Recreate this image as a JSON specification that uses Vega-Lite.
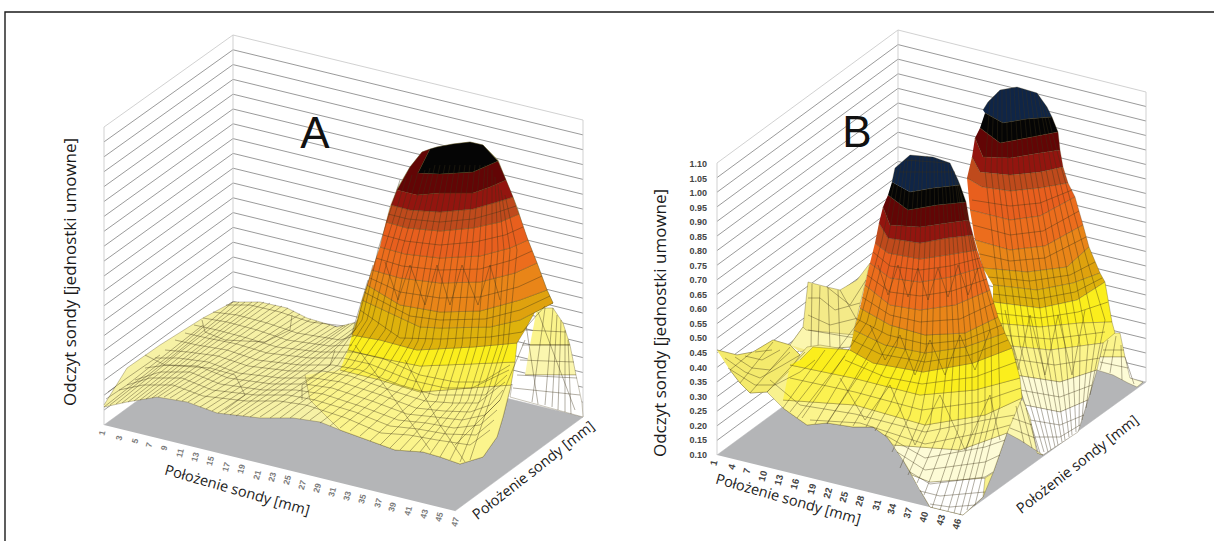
{"$schema":"https://vega.github.io/schema/vega-lite/v6.json","width":1214,"height":541,"padding":0,"autosize":"none","background":"#ffffff","view":{"stroke":null},
"datasets":{
"walls":[
{"w":"a0","k":"edge","x":104,"y":127},{"w":"a0","k":"edge","x":233,"y":35},{"w":"a0","k":"edge","x":583,"y":120},
{"w":"a1","k":"grid","x":104,"y":141.9},{"w":"a1","k":"grid","x":233,"y":49.8},{"w":"a1","k":"grid","x":583,"y":134.9},
{"w":"a2","k":"grid","x":104,"y":156.8},{"w":"a2","k":"grid","x":233,"y":64.6},{"w":"a2","k":"grid","x":583,"y":149.7},
{"w":"a3","k":"grid","x":104,"y":171.7},{"w":"a3","k":"grid","x":233,"y":79.4},{"w":"a3","k":"grid","x":583,"y":164.6},
{"w":"a4","k":"grid","x":104,"y":186.6},{"w":"a4","k":"grid","x":233,"y":94.2},{"w":"a4","k":"grid","x":583,"y":179.4},
{"w":"a5","k":"grid","x":104,"y":201.5},{"w":"a5","k":"grid","x":233,"y":109},{"w":"a5","k":"grid","x":583,"y":194.3},
{"w":"a6","k":"grid","x":104,"y":216.4},{"w":"a6","k":"grid","x":233,"y":123.8},{"w":"a6","k":"grid","x":583,"y":209.1},
{"w":"a7","k":"grid","x":104,"y":231.3},{"w":"a7","k":"grid","x":233,"y":138.6},{"w":"a7","k":"grid","x":583,"y":224},
{"w":"a8","k":"grid","x":104,"y":246.2},{"w":"a8","k":"grid","x":233,"y":153.4},{"w":"a8","k":"grid","x":583,"y":238.8},
{"w":"a9","k":"grid","x":104,"y":261.1},{"w":"a9","k":"grid","x":233,"y":168.2},{"w":"a9","k":"grid","x":583,"y":253.7},
{"w":"a10","k":"grid","x":104,"y":276},{"w":"a10","k":"grid","x":233,"y":183},{"w":"a10","k":"grid","x":583,"y":268.5},
{"w":"a11","k":"grid","x":104,"y":290.9},{"w":"a11","k":"grid","x":233,"y":197.8},{"w":"a11","k":"grid","x":583,"y":283.4},
{"w":"a12","k":"grid","x":104,"y":305.8},{"w":"a12","k":"grid","x":233,"y":212.6},{"w":"a12","k":"grid","x":583,"y":298.2},
{"w":"a13","k":"grid","x":104,"y":320.7},{"w":"a13","k":"grid","x":233,"y":227.4},{"w":"a13","k":"grid","x":583,"y":313.1},
{"w":"a14","k":"grid","x":104,"y":335.6},{"w":"a14","k":"grid","x":233,"y":242.2},{"w":"a14","k":"grid","x":583,"y":327.9},
{"w":"a15","k":"grid","x":104,"y":350.5},{"w":"a15","k":"grid","x":233,"y":257},{"w":"a15","k":"grid","x":583,"y":342.8},
{"w":"a16","k":"grid","x":104,"y":365.4},{"w":"a16","k":"grid","x":233,"y":271.8},{"w":"a16","k":"grid","x":583,"y":357.6},
{"w":"a17","k":"grid","x":104,"y":380.3},{"w":"a17","k":"grid","x":233,"y":286.6},{"w":"a17","k":"grid","x":583,"y":372.5},
{"w":"a18","k":"grid","x":104,"y":395.2},{"w":"a18","k":"grid","x":233,"y":301.4},{"w":"a18","k":"grid","x":583,"y":387.3},
{"w":"a19","k":"grid","x":104,"y":410.1},{"w":"a19","k":"grid","x":233,"y":316.2},{"w":"a19","k":"grid","x":583,"y":402.2},
{"w":"av1","k":"edge","x":104,"y":127},{"w":"av1","k":"edge","x":104,"y":425},
{"w":"av2","k":"edge","x":233,"y":35},{"w":"av2","k":"edge","x":233,"y":331},
{"w":"av3","k":"edge","x":583,"y":120},{"w":"av3","k":"edge","x":583,"y":417},
{"w":"b0","k":"edge","x":717,"y":163},{"w":"b0","k":"edge","x":898,"y":30},{"w":"b0","k":"edge","x":1146,"y":92},
{"w":"b1","k":"grid","x":717,"y":177.6},{"w":"b1","k":"grid","x":898,"y":44.6},{"w":"b1","k":"grid","x":1146,"y":106.5},
{"w":"b2","k":"grid","x":717,"y":192.2},{"w":"b2","k":"grid","x":898,"y":59.2},{"w":"b2","k":"grid","x":1146,"y":121},
{"w":"b3","k":"grid","x":717,"y":206.8},{"w":"b3","k":"grid","x":898,"y":73.8},{"w":"b3","k":"grid","x":1146,"y":135.5},
{"w":"b4","k":"grid","x":717,"y":221.4},{"w":"b4","k":"grid","x":898,"y":88.4},{"w":"b4","k":"grid","x":1146,"y":150},
{"w":"b5","k":"grid","x":717,"y":236},{"w":"b5","k":"grid","x":898,"y":103},{"w":"b5","k":"grid","x":1146,"y":164.5},
{"w":"b6","k":"grid","x":717,"y":250.6},{"w":"b6","k":"grid","x":898,"y":117.6},{"w":"b6","k":"grid","x":1146,"y":179},
{"w":"b7","k":"grid","x":717,"y":265.2},{"w":"b7","k":"grid","x":898,"y":132.2},{"w":"b7","k":"grid","x":1146,"y":193.5},
{"w":"b8","k":"grid","x":717,"y":279.8},{"w":"b8","k":"grid","x":898,"y":146.8},{"w":"b8","k":"grid","x":1146,"y":208},
{"w":"b9","k":"grid","x":717,"y":294.4},{"w":"b9","k":"grid","x":898,"y":161.4},{"w":"b9","k":"grid","x":1146,"y":222.5},
{"w":"b10","k":"grid","x":717,"y":309},{"w":"b10","k":"grid","x":898,"y":176},{"w":"b10","k":"grid","x":1146,"y":237},
{"w":"b11","k":"grid","x":717,"y":323.6},{"w":"b11","k":"grid","x":898,"y":190.6},{"w":"b11","k":"grid","x":1146,"y":251.5},
{"w":"b12","k":"grid","x":717,"y":338.2},{"w":"b12","k":"grid","x":898,"y":205.2},{"w":"b12","k":"grid","x":1146,"y":266},
{"w":"b13","k":"grid","x":717,"y":352.8},{"w":"b13","k":"grid","x":898,"y":219.8},{"w":"b13","k":"grid","x":1146,"y":280.5},
{"w":"b14","k":"grid","x":717,"y":367.4},{"w":"b14","k":"grid","x":898,"y":234.4},{"w":"b14","k":"grid","x":1146,"y":295},
{"w":"b15","k":"grid","x":717,"y":382},{"w":"b15","k":"grid","x":898,"y":249},{"w":"b15","k":"grid","x":1146,"y":309.5},
{"w":"b16","k":"grid","x":717,"y":396.6},{"w":"b16","k":"grid","x":898,"y":263.6},{"w":"b16","k":"grid","x":1146,"y":324},
{"w":"b17","k":"grid","x":717,"y":411.2},{"w":"b17","k":"grid","x":898,"y":278.2},{"w":"b17","k":"grid","x":1146,"y":338.5},
{"w":"b18","k":"grid","x":717,"y":425.8},{"w":"b18","k":"grid","x":898,"y":292.8},{"w":"b18","k":"grid","x":1146,"y":353},
{"w":"b19","k":"grid","x":717,"y":440.4},{"w":"b19","k":"grid","x":898,"y":307.4},{"w":"b19","k":"grid","x":1146,"y":367.5},
{"w":"bv1","k":"edge","x":717,"y":163},{"w":"bv1","k":"edge","x":717,"y":455},
{"w":"bv2","k":"edge","x":898,"y":30},{"w":"bv2","k":"edge","x":898,"y":322},
{"w":"bv3","k":"edge","x":1146,"y":92},{"w":"bv3","k":"edge","x":1146,"y":382}
],
"floors":[
{"id":"fa","level":"floor","x":104,"y":425},{"id":"fa","level":"floor","x":233,"y":331},{"id":"fa","level":"floor","x":583,"y":417},{"id":"fa","level":"floor","x":455,"y":511},
{"id":"fb","level":"floor","x":717,"y":455},{"id":"fb","level":"floor","x":898,"y":322},{"id":"fb","level":"floor","x":1146,"y":382},{"id":"fb","level":"floor","x":962,"y":515}
],
"frame":[{"x":5,"y":541},{"x":5,"y":12},{"x":1214,"y":12}],
"backPolys":[
{"id":"aw1","level":"pale2","x":537,"y":308},{"id":"aw1","level":"pale2","x":553,"y":308},{"id":"aw1","level":"pale2","x":563,"y":323},{"id":"aw1","level":"pale2","x":570,"y":345},{"id":"aw1","level":"pale2","x":530,"y":345},
{"id":"aw2","level":"pale3","x":530,"y":345},{"id":"aw2","level":"pale3","x":570,"y":345},{"id":"aw2","level":"pale3","x":576,"y":375},{"id":"aw2","level":"pale3","x":525,"y":375},
{"id":"aw3","level":"white","x":525,"y":375},{"id":"aw3","level":"white","x":576,"y":375},{"id":"aw3","level":"white","x":582,"y":403},{"id":"aw3","level":"white","x":583,"y":417},{"id":"aw3","level":"white","x":510,"y":397},{"id":"aw3","level":"white","x":512,"y":385},
{"id":"bw1","level":"pale2","x":1112,"y":333},{"id":"bw1","level":"pale2","x":1120,"y":333},{"id":"bw1","level":"pale2","x":1125,"y":357},{"id":"bw1","level":"pale2","x":1100,"y":357},{"id":"bw1","level":"pale2","x":1103,"y":343},
{"id":"bw2","level":"cream","x":1100,"y":357},{"id":"bw2","level":"cream","x":1125,"y":357},{"id":"bw2","level":"cream","x":1130,"y":378},{"id":"bw2","level":"cream","x":1143,"y":382},{"id":"bw2","level":"cream","x":1137,"y":387},{"id":"bw2","level":"cream","x":1128,"y":383},{"id":"bw2","level":"cream","x":1113,"y":375},{"id":"bw2","level":"cream","x":1097,"y":370},
{"id":"p2a","level":"navy","x":983,"y":110},{"id":"p2a","level":"navy","x":988,"y":102},{"id":"p2a","level":"navy","x":1000,"y":90},{"id":"p2a","level":"navy","x":1017,"y":87},{"id":"p2a","level":"navy","x":1037,"y":93},{"id":"p2a","level":"navy","x":1047,"y":107},{"id":"p2a","level":"navy","x":1052,"y":117},{"id":"p2a","level":"navy","x":1027,"y":119},{"id":"p2a","level":"navy","x":1003,"y":123},{"id":"p2a","level":"navy","x":985,"y":113},
{"id":"p2b","level":"black","x":985,"y":113},{"id":"p2b","level":"black","x":1003,"y":123},{"id":"p2b","level":"black","x":1027,"y":119},{"id":"p2b","level":"black","x":1052,"y":117},{"id":"p2b","level":"black","x":1058,"y":132},{"id":"p2b","level":"black","x":1027,"y":138},{"id":"p2b","level":"black","x":1000,"y":143},{"id":"p2b","level":"black","x":980,"y":128},
{"id":"p2c","level":"red1","x":980,"y":128},{"id":"p2c","level":"red1","x":1000,"y":143},{"id":"p2c","level":"red1","x":1027,"y":138},{"id":"p2c","level":"red1","x":1058,"y":132},{"id":"p2c","level":"red1","x":1060,"y":150},{"id":"p2c","level":"red1","x":1040,"y":153},{"id":"p2c","level":"red1","x":1010,"y":158},{"id":"p2c","level":"red1","x":983,"y":157},{"id":"p2c","level":"red1","x":975,"y":138},
{"id":"p2d","level":"red2","x":975,"y":138},{"id":"p2d","level":"red2","x":983,"y":157},{"id":"p2d","level":"red2","x":1010,"y":158},{"id":"p2d","level":"red2","x":1040,"y":153},{"id":"p2d","level":"red2","x":1060,"y":150},{"id":"p2d","level":"red2","x":1063,"y":167},{"id":"p2d","level":"red2","x":1040,"y":172},{"id":"p2d","level":"red2","x":1010,"y":175},{"id":"p2d","level":"red2","x":980,"y":172},{"id":"p2d","level":"red2","x":972,"y":157},
{"id":"p2e","level":"brick","x":972,"y":157},{"id":"p2e","level":"brick","x":980,"y":172},{"id":"p2e","level":"brick","x":1010,"y":175},{"id":"p2e","level":"brick","x":1040,"y":172},{"id":"p2e","level":"brick","x":1063,"y":167},{"id":"p2e","level":"brick","x":1068,"y":183},{"id":"p2e","level":"brick","x":1040,"y":188},{"id":"p2e","level":"brick","x":1010,"y":191},{"id":"p2e","level":"brick","x":982,"y":187},{"id":"p2e","level":"brick","x":967,"y":178},
{"id":"p2f","level":"or1","x":967,"y":178},{"id":"p2f","level":"or1","x":982,"y":187},{"id":"p2f","level":"or1","x":1010,"y":191},{"id":"p2f","level":"or1","x":1040,"y":188},{"id":"p2f","level":"or1","x":1068,"y":183},{"id":"p2f","level":"or1","x":1075,"y":197},{"id":"p2f","level":"or1","x":1040,"y":216},{"id":"p2f","level":"or1","x":1010,"y":220},{"id":"p2f","level":"or1","x":970,"y":210},
{"id":"p2g","level":"or2","x":970,"y":210},{"id":"p2g","level":"or2","x":1010,"y":220},{"id":"p2g","level":"or2","x":1040,"y":216},{"id":"p2g","level":"or2","x":1075,"y":197},{"id":"p2g","level":"or2","x":1083,"y":225},{"id":"p2g","level":"or2","x":1045,"y":246},{"id":"p2g","level":"or2","x":1010,"y":250},{"id":"p2g","level":"or2","x":975,"y":240},
{"id":"p2h","level":"or3","x":975,"y":240},{"id":"p2h","level":"or3","x":1010,"y":250},{"id":"p2h","level":"or3","x":1045,"y":246},{"id":"p2h","level":"or3","x":1083,"y":225},{"id":"p2h","level":"or3","x":1089,"y":247},{"id":"p2h","level":"or3","x":1067,"y":267},{"id":"p2h","level":"or3","x":1027,"y":272},{"id":"p2h","level":"or3","x":983,"y":268},
{"id":"p2i","level":"gold1","x":983,"y":268},{"id":"p2i","level":"gold1","x":1027,"y":272},{"id":"p2i","level":"gold1","x":1067,"y":267},{"id":"p2i","level":"gold1","x":1089,"y":247},{"id":"p2i","level":"gold1","x":1100,"y":273},{"id":"p2i","level":"gold1","x":1073,"y":283},{"id":"p2i","level":"gold1","x":1037,"y":290},{"id":"p2i","level":"gold1","x":993,"y":285},
{"id":"p2j","level":"gold2","x":993,"y":285},{"id":"p2j","level":"gold2","x":1037,"y":290},{"id":"p2j","level":"gold2","x":1073,"y":283},{"id":"p2j","level":"gold2","x":1100,"y":273},{"id":"p2j","level":"gold2","x":1105,"y":282},{"id":"p2j","level":"gold2","x":1077,"y":300},{"id":"p2j","level":"gold2","x":1040,"y":308},{"id":"p2j","level":"gold2","x":993,"y":302},
{"id":"p2k","level":"yel","x":993,"y":302},{"id":"p2k","level":"yel","x":1040,"y":308},{"id":"p2k","level":"yel","x":1077,"y":300},{"id":"p2k","level":"yel","x":1105,"y":282},{"id":"p2k","level":"yel","x":1112,"y":322},{"id":"p2k","level":"yel","x":1080,"y":323},{"id":"p2k","level":"yel","x":1040,"y":327},{"id":"p2k","level":"yel","x":993,"y":323},
{"id":"p2l","level":"pale1","x":993,"y":323},{"id":"p2l","level":"pale1","x":1040,"y":327},{"id":"p2l","level":"pale1","x":1080,"y":323},{"id":"p2l","level":"pale1","x":1112,"y":322},{"id":"p2l","level":"pale1","x":1115,"y":333},{"id":"p2l","level":"pale1","x":1103,"y":343},{"id":"p2l","level":"pale1","x":1050,"y":350},{"id":"p2l","level":"pale1","x":1000,"y":345},
{"id":"p2m","level":"pale2","x":1000,"y":345},{"id":"p2m","level":"pale2","x":1050,"y":350},{"id":"p2m","level":"pale2","x":1103,"y":343},{"id":"p2m","level":"pale2","x":1097,"y":370},{"id":"p2m","level":"pale2","x":1060,"y":382},{"id":"p2m","level":"pale2","x":1015,"y":375},
{"id":"p2n","level":"cream","x":1015,"y":375},{"id":"p2n","level":"cream","x":1060,"y":382},{"id":"p2n","level":"cream","x":1097,"y":370},{"id":"p2n","level":"cream","x":1088,"y":400},{"id":"p2n","level":"cream","x":1060,"y":412},{"id":"p2n","level":"cream","x":1025,"y":405},
{"id":"p2o","level":"white","x":1025,"y":405},{"id":"p2o","level":"white","x":1060,"y":412},{"id":"p2o","level":"white","x":1088,"y":400},{"id":"p2o","level":"white","x":1078,"y":432},{"id":"p2o","level":"white","x":1043,"y":455},{"id":"p2o","level":"white","x":1037,"y":453},
{"id":"fin","level":"fin","x":790,"y":345},{"id":"fin","level":"fin","x":803,"y":327},{"id":"fin","level":"fin","x":808,"y":282},{"id":"fin","level":"fin","x":827,"y":287},{"id":"fin","level":"fin","x":840,"y":290},{"id":"fin","level":"fin","x":857,"y":280},{"id":"fin","level":"fin","x":870,"y":263},{"id":"fin","level":"fin","x":850,"y":347},{"id":"fin","level":"fin","x":807,"y":350},{"id":"fin","level":"fin","x":800,"y":352},
{"id":"fin2","level":"pale3","x":790,"y":345},{"id":"fin2","level":"pale3","x":803,"y":327},{"id":"fin2","level":"pale3","x":806,"y":330},{"id":"fin2","level":"pale3","x":855,"y":335},{"id":"fin2","level":"pale3","x":850,"y":347},{"id":"fin2","level":"pale3","x":807,"y":350}
],
"backMesh":[
{"id":"w1","x":545,"y":308},{"id":"w1","x":532,"y":402},{"id":"w2","x":553,"y":308},{"id":"w2","x":545,"y":405},{"id":"w3","x":561,"y":320},{"id":"w3","x":558,"y":410},{"id":"w4","x":568,"y":340},{"id":"w4","x":571,"y":414},
{"id":"w5","x":525,"y":330},{"id":"w5","x":566,"y":332},{"id":"w6","x":522,"y":345},{"id":"w6","x":570,"y":345},{"id":"w7","x":520,"y":360},{"id":"w7","x":574,"y":362},{"id":"w8","x":517,"y":375},{"id":"w8","x":577,"y":378},{"id":"w9","x":513,"y":388},{"id":"w9","x":580,"y":395},{"id":"w10","x":538,"y":312},{"id":"w10","x":575,"y":410},{"id":"w11","x":525,"y":318},{"id":"w11","x":538,"y":404},{"id":"w12","x":557,"y":315},{"id":"w12","x":552,"y":407},{"id":"w13","x":565,"y":330},{"id":"w13","x":565,"y":412},
{"id":"q1","x":990,"y":100},{"id":"q1","x":985,"y":170},{"id":"q1","x":995,"y":260},{"id":"q1","x":1005,"y":340},{"id":"q1","x":1040,"y":453},
{"id":"q2","x":998,"y":92},{"id":"q2","x":997,"y":170},{"id":"q2","x":1008,"y":260},{"id":"q2","x":1020,"y":345},{"id":"q2","x":1048,"y":452},
{"id":"q3","x":1006,"y":89},{"id":"q3","x":1008,"y":170},{"id":"q3","x":1020,"y":260},{"id":"q3","x":1033,"y":345},{"id":"q3","x":1055,"y":447},
{"id":"q4","x":1014,"y":88},{"id":"q4","x":1019,"y":170},{"id":"q4","x":1033,"y":260},{"id":"q4","x":1045,"y":345},{"id":"q4","x":1062,"y":442},
{"id":"q5","x":1022,"y":89},{"id":"q5","x":1030,"y":170},{"id":"q5","x":1045,"y":260},{"id":"q5","x":1058,"y":345},{"id":"q5","x":1069,"y":437},
{"id":"q6","x":1030,"y":91},{"id":"q6","x":1041,"y":170},{"id":"q6","x":1058,"y":260},{"id":"q6","x":1072,"y":345},{"id":"q6","x":1076,"y":432},
{"id":"q7","x":1038,"y":95},{"id":"q7","x":1052,"y":170},{"id":"q7","x":1072,"y":260},{"id":"q7","x":1088,"y":345},{"id":"q7","x":1082,"y":420},
{"id":"q8","x":1045,"y":105},{"id":"q8","x":1062,"y":170},{"id":"q8","x":1087,"y":260},{"id":"q8","x":1105,"y":320},{"id":"q8","x":1090,"y":395},
{"id":"qb1","x":994,"y":96},{"id":"qb1","x":991,"y":170},{"id":"qb1","x":1001,"y":260},{"id":"qb1","x":1012,"y":342},{"id":"qb1","x":1044,"y":452},
{"id":"qb2","x":1002,"y":90},{"id":"qb2","x":1002,"y":170},{"id":"qb2","x":1014,"y":260},{"id":"qb2","x":1026,"y":345},{"id":"qb2","x":1051,"y":450},
{"id":"qb3","x":1010,"y":88},{"id":"qb3","x":1013,"y":170},{"id":"qb3","x":1026,"y":260},{"id":"qb3","x":1039,"y":345},{"id":"qb3","x":1058,"y":445},
{"id":"qb4","x":1018,"y":88},{"id":"qb4","x":1024,"y":170},{"id":"qb4","x":1039,"y":260},{"id":"qb4","x":1051,"y":345},{"id":"qb4","x":1065,"y":440},
{"id":"qb5","x":1026,"y":90},{"id":"qb5","x":1035,"y":170},{"id":"qb5","x":1051,"y":260},{"id":"qb5","x":1065,"y":345},{"id":"qb5","x":1072,"y":435},
{"id":"qb6","x":1034,"y":93},{"id":"qb6","x":1046,"y":170},{"id":"qb6","x":1065,"y":260},{"id":"qb6","x":1080,"y":345},{"id":"qb6","x":1079,"y":426},
{"id":"qb7","x":1041,"y":100},{"id":"qb7","x":1057,"y":170},{"id":"qb7","x":1079,"y":260},{"id":"qb7","x":1096,"y":335},{"id":"qb7","x":1086,"y":408},
{"id":"r1","x":972,"y":200},{"id":"r1","x":1010,"y":206},{"id":"r1","x":1040,"y":203},{"id":"r1","x":1072,"y":190},
{"id":"r2","x":973,"y":225},{"id":"r2","x":1010,"y":235},{"id":"r2","x":1043,"y":231},{"id":"r2","x":1079,"y":211},
{"id":"r3","x":980,"y":254},{"id":"r3","x":1010,"y":261},{"id":"r3","x":1045,"y":258},{"id":"r3","x":1086,"y":237},
{"id":"r4","x":988,"y":277},{"id":"r4","x":1030,"y":281},{"id":"r4","x":1070,"y":275},{"id":"r4","x":1095,"y":262},
{"id":"r5","x":993,"y":294},{"id":"r5","x":1038,"y":299},{"id":"r5","x":1075,"y":292},{"id":"r5","x":1102,"y":278},
{"id":"r6","x":993,"y":313},{"id":"r6","x":1040,"y":318},{"id":"r6","x":1078,"y":312},{"id":"r6","x":1108,"y":302},
{"id":"r7","x":1000,"y":335},{"id":"r7","x":1050,"y":339},{"id":"r7","x":1105,"y":332},
{"id":"r8","x":1005,"y":358},{"id":"r8","x":1055,"y":365},{"id":"r8","x":1100,"y":358},
{"id":"r9","x":1020,"y":390},{"id":"r9","x":1060,"y":397},{"id":"r9","x":1092,"y":385},
{"id":"r10","x":1030,"y":420},{"id":"r10","x":1060,"y":425},{"id":"r10","x":1084,"y":415},
{"id":"r11","x":1035,"y":437},{"id":"r11","x":1060,"y":437},{"id":"r11","x":1080,"y":425},
{"id":"z2","x":1005,"y":310},{"id":"z2","x":1018,"y":370},{"id":"z2","x":1030,"y":315},{"id":"z2","x":1045,"y":375},{"id":"z2","x":1058,"y":315},{"id":"z2","x":1072,"y":375},{"id":"z2","x":1085,"y":310},
{"id":"x1","x":1108,"y":340},{"id":"x1","x":1100,"y":370},{"id":"x2","x":1116,"y":336},{"id":"x2","x":1110,"y":373},{"id":"x3","x":1121,"y":345},{"id":"x3","x":1122,"y":380},{"id":"x4","x":1125,"y":357},{"id":"x4","x":1134,"y":384},{"id":"x5","x":1103,"y":350},{"id":"x5","x":1124,"y":350},{"id":"x6","x":1100,"y":362},{"id":"x6","x":1128,"y":368},
{"id":"n1","x":812,"y":284},{"id":"n1","x":811,"y":349},{"id":"n2","x":820,"y":286},{"id":"n2","x":818,"y":348},{"id":"n3","x":828,"y":288},{"id":"n3","x":830,"y":348},{"id":"n4","x":838,"y":290},{"id":"n4","x":840,"y":348},
{"id":"n5","x":808,"y":298},{"id":"n5","x":820,"y":298},{"id":"n5","x":835,"y":310},{"id":"n5","x":860,"y":303},{"id":"n6","x":808,"y":315},{"id":"n6","x":830,"y":325},{"id":"n6","x":858,"y":318},{"id":"n7","x":808,"y":330},{"id":"n7","x":855,"y":338},{"id":"n8","x":827,"y":287},{"id":"n8","x":850,"y":305},{"id":"n8","x":866,"y":280},{"id":"n9","x":840,"y":290},{"id":"n9","x":858,"y":322}
],
"frontPolys":[
{"id":"ab","level":"plateau","x":104,"y":405},{"id":"ab","level":"plateau","x":127,"y":368},{"id":"ab","level":"plateau","x":160,"y":345},{"id":"ab","level":"plateau","x":203,"y":318},{"id":"ab","level":"plateau","x":233,"y":302},{"id":"ab","level":"plateau","x":260,"y":302},{"id":"ab","level":"plateau","x":287,"y":308},{"id":"ab","level":"plateau","x":307,"y":318},{"id":"ab","level":"plateau","x":337,"y":327},{"id":"ab","level":"plateau","x":353,"y":323},{"id":"ab","level":"plateau","x":357,"y":323},{"id":"ab","level":"plateau","x":370,"y":277},{"id":"ab","level":"plateau","x":380,"y":247},{"id":"ab","level":"plateau","x":390,"y":207},{"id":"ab","level":"plateau","x":398,"y":187},{"id":"ab","level":"plateau","x":410,"y":167},{"id":"ab","level":"plateau","x":422,"y":152},{"id":"ab","level":"plateau","x":437,"y":147},{"id":"ab","level":"plateau","x":453,"y":144},{"id":"ab","level":"plateau","x":470,"y":142},{"id":"ab","level":"plateau","x":483,"y":145},{"id":"ab","level":"plateau","x":498,"y":160},{"id":"ab","level":"plateau","x":507,"y":183},{"id":"ab","level":"plateau","x":517,"y":207},{"id":"ab","level":"plateau","x":525,"y":233},{"id":"ab","level":"plateau","x":537,"y":263},{"id":"ab","level":"plateau","x":547,"y":290},{"id":"ab","level":"plateau","x":553,"y":303},{"id":"ab","level":"plateau","x":537,"y":308},{"id":"ab","level":"plateau","x":525,"y":323},{"id":"ab","level":"plateau","x":515,"y":347},{"id":"ab","level":"plateau","x":513,"y":367},{"id":"ab","level":"plateau","x":510,"y":390},{"id":"ab","level":"plateau","x":503,"y":417},{"id":"ab","level":"plateau","x":497,"y":437},{"id":"ab","level":"plateau","x":483,"y":457},{"id":"ab","level":"plateau","x":460,"y":464},{"id":"ab","level":"plateau","x":440,"y":457},{"id":"ab","level":"plateau","x":423,"y":452},{"id":"ab","level":"plateau","x":395,"y":450},{"id":"ab","level":"plateau","x":373,"y":442},{"id":"ab","level":"plateau","x":340,"y":430},{"id":"ab","level":"plateau","x":320,"y":422},{"id":"ab","level":"plateau","x":293,"y":418},{"id":"ab","level":"plateau","x":260,"y":418},{"id":"ab","level":"plateau","x":217,"y":413},{"id":"ab","level":"plateau","x":187,"y":402},{"id":"ab","level":"plateau","x":157,"y":397},{"id":"ab","level":"plateau","x":127,"y":402},{"id":"ab","level":"plateau","x":104,"y":407},
{"id":"a13","level":"pale2","x":340,"y":370},{"id":"a13","level":"pale2","x":380,"y":380},{"id":"a13","level":"pale2","x":420,"y":392},{"id":"a13","level":"pale2","x":470,"y":388},{"id":"a13","level":"pale2","x":511,"y":385},{"id":"a13","level":"pale2","x":503,"y":417},{"id":"a13","level":"pale2","x":497,"y":437},{"id":"a13","level":"pale2","x":483,"y":457},{"id":"a13","level":"pale2","x":460,"y":464},{"id":"a13","level":"pale2","x":440,"y":457},{"id":"a13","level":"pale2","x":423,"y":452},{"id":"a13","level":"pale2","x":395,"y":450},{"id":"a13","level":"pale2","x":373,"y":442},{"id":"a13","level":"pale2","x":340,"y":430},{"id":"a13","level":"pale2","x":310,"y":400},{"id":"a13","level":"pale2","x":305,"y":375},
{"id":"a12","level":"pale1","x":348,"y":350},{"id":"a12","level":"pale1","x":380,"y":358},{"id":"a12","level":"pale1","x":420,"y":366},{"id":"a12","level":"pale1","x":470,"y":364},{"id":"a12","level":"pale1","x":515,"y":362},{"id":"a12","level":"pale1","x":511,"y":385},{"id":"a12","level":"pale1","x":470,"y":388},{"id":"a12","level":"pale1","x":420,"y":392},{"id":"a12","level":"pale1","x":380,"y":380},{"id":"a12","level":"pale1","x":340,"y":370},
{"id":"a11","level":"yel","x":352,"y":335},{"id":"a11","level":"yel","x":380,"y":340},{"id":"a11","level":"yel","x":417,"y":350},{"id":"a11","level":"yel","x":473,"y":347},{"id":"a11","level":"yel","x":517,"y":343},{"id":"a11","level":"yel","x":515,"y":362},{"id":"a11","level":"yel","x":470,"y":364},{"id":"a11","level":"yel","x":420,"y":366},{"id":"a11","level":"yel","x":380,"y":358},{"id":"a11","level":"yel","x":348,"y":350},
{"id":"a10","level":"gold2","x":362,"y":300},{"id":"a10","level":"gold2","x":420,"y":327},{"id":"a10","level":"gold2","x":440,"y":328},{"id":"a10","level":"gold2","x":490,"y":327},{"id":"a10","level":"gold2","x":520,"y":320},{"id":"a10","level":"gold2","x":553,"y":303},{"id":"a10","level":"gold2","x":537,"y":308},{"id":"a10","level":"gold2","x":525,"y":330},{"id":"a10","level":"gold2","x":517,"y":343},{"id":"a10","level":"gold2","x":473,"y":347},{"id":"a10","level":"gold2","x":417,"y":350},{"id":"a10","level":"gold2","x":380,"y":340},{"id":"a10","level":"gold2","x":352,"y":335},{"id":"a10","level":"gold2","x":357,"y":320},
{"id":"a9","level":"gold1","x":367,"y":285},{"id":"a9","level":"gold1","x":400,"y":305},{"id":"a9","level":"gold1","x":440,"y":312},{"id":"a9","level":"gold1","x":480,"y":311},{"id":"a9","level":"gold1","x":520,"y":300},{"id":"a9","level":"gold1","x":547,"y":290},{"id":"a9","level":"gold1","x":553,"y":303},{"id":"a9","level":"gold1","x":520,"y":320},{"id":"a9","level":"gold1","x":490,"y":327},{"id":"a9","level":"gold1","x":440,"y":328},{"id":"a9","level":"gold1","x":420,"y":327},{"id":"a9","level":"gold1","x":362,"y":300},
{"id":"a8","level":"or3","x":372,"y":270},{"id":"a8","level":"or3","x":400,"y":278},{"id":"a8","level":"or3","x":440,"y":283},{"id":"a8","level":"or3","x":480,"y":282},{"id":"a8","level":"or3","x":515,"y":273},{"id":"a8","level":"or3","x":537,"y":263},{"id":"a8","level":"or3","x":547,"y":290},{"id":"a8","level":"or3","x":520,"y":300},{"id":"a8","level":"or3","x":480,"y":311},{"id":"a8","level":"or3","x":440,"y":312},{"id":"a8","level":"or3","x":400,"y":305},{"id":"a8","level":"or3","x":367,"y":285},
{"id":"a7","level":"or2","x":380,"y":247},{"id":"a7","level":"or2","x":405,"y":254},{"id":"a7","level":"or2","x":440,"y":258},{"id":"a7","level":"or2","x":480,"y":256},{"id":"a7","level":"or2","x":510,"y":248},{"id":"a7","level":"or2","x":528,"y":240},{"id":"a7","level":"or2","x":537,"y":263},{"id":"a7","level":"or2","x":515,"y":273},{"id":"a7","level":"or2","x":480,"y":282},{"id":"a7","level":"or2","x":440,"y":283},{"id":"a7","level":"or2","x":400,"y":278},{"id":"a7","level":"or2","x":372,"y":270},
{"id":"a6","level":"or1","x":386,"y":222},{"id":"a6","level":"or1","x":407,"y":228},{"id":"a6","level":"or1","x":440,"y":231},{"id":"a6","level":"or1","x":473,"y":228},{"id":"a6","level":"or1","x":500,"y":222},{"id":"a6","level":"or1","x":519,"y":214},{"id":"a6","level":"or1","x":528,"y":240},{"id":"a6","level":"or1","x":510,"y":248},{"id":"a6","level":"or1","x":480,"y":256},{"id":"a6","level":"or1","x":440,"y":258},{"id":"a6","level":"or1","x":405,"y":254},{"id":"a6","level":"or1","x":380,"y":247},
{"id":"a5","level":"brick","x":391,"y":205},{"id":"a5","level":"brick","x":410,"y":210},{"id":"a5","level":"brick","x":440,"y":212},{"id":"a5","level":"brick","x":473,"y":209},{"id":"a5","level":"brick","x":497,"y":202},{"id":"a5","level":"brick","x":513,"y":197},{"id":"a5","level":"brick","x":519,"y":214},{"id":"a5","level":"brick","x":500,"y":222},{"id":"a5","level":"brick","x":473,"y":228},{"id":"a5","level":"brick","x":440,"y":231},{"id":"a5","level":"brick","x":407,"y":228},{"id":"a5","level":"brick","x":386,"y":222},
{"id":"a4","level":"red2","x":397,"y":190},{"id":"a4","level":"red2","x":417,"y":195},{"id":"a4","level":"red2","x":440,"y":193},{"id":"a4","level":"red2","x":473,"y":193},{"id":"a4","level":"red2","x":490,"y":187},{"id":"a4","level":"red2","x":506,"y":180},{"id":"a4","level":"red2","x":513,"y":197},{"id":"a4","level":"red2","x":497,"y":202},{"id":"a4","level":"red2","x":473,"y":209},{"id":"a4","level":"red2","x":440,"y":212},{"id":"a4","level":"red2","x":410,"y":210},{"id":"a4","level":"red2","x":391,"y":205},
{"id":"a3","level":"red1","x":397,"y":190},{"id":"a3","level":"red1","x":410,"y":167},{"id":"a3","level":"red1","x":422,"y":152},{"id":"a3","level":"red1","x":430,"y":149},{"id":"a3","level":"red1","x":418,"y":173},{"id":"a3","level":"red1","x":440,"y":174},{"id":"a3","level":"red1","x":473,"y":172},{"id":"a3","level":"red1","x":498,"y":161},{"id":"a3","level":"red1","x":506,"y":180},{"id":"a3","level":"red1","x":490,"y":187},{"id":"a3","level":"red1","x":473,"y":193},{"id":"a3","level":"red1","x":440,"y":193},{"id":"a3","level":"red1","x":417,"y":195},
{"id":"a2","level":"black","x":418,"y":173},{"id":"a2","level":"black","x":430,"y":149},{"id":"a2","level":"black","x":437,"y":147},{"id":"a2","level":"black","x":453,"y":144},{"id":"a2","level":"black","x":470,"y":142},{"id":"a2","level":"black","x":483,"y":145},{"id":"a2","level":"black","x":498,"y":161},{"id":"a2","level":"black","x":473,"y":172},{"id":"a2","level":"black","x":440,"y":174},
{"id":"bb","level":"plateauB","x":717,"y":350},{"id":"bb","level":"plateauB","x":737,"y":355},{"id":"bb","level":"plateauB","x":753,"y":352},{"id":"bb","level":"plateauB","x":773,"y":340},{"id":"bb","level":"plateauB","x":790,"y":345},{"id":"bb","level":"plateauB","x":800,"y":355},{"id":"bb","level":"plateauB","x":807,"y":347},{"id":"bb","level":"plateauB","x":820,"y":345},{"id":"bb","level":"plateauB","x":850,"y":350},{"id":"bb","level":"plateauB","x":1012,"y":348},{"id":"bb","level":"plateauB","x":1022,"y":398},{"id":"bb","level":"plateauB","x":1007,"y":433},{"id":"bb","level":"plateauB","x":993,"y":473},{"id":"bb","level":"plateauB","x":983,"y":497},{"id":"bb","level":"plateauB","x":963,"y":515},{"id":"bb","level":"plateauB","x":930,"y":507},{"id":"bb","level":"plateauB","x":920,"y":490},{"id":"bb","level":"plateauB","x":903,"y":460},{"id":"bb","level":"plateauB","x":887,"y":437},{"id":"bb","level":"plateauB","x":873,"y":427},{"id":"bb","level":"plateauB","x":853,"y":427},{"id":"bb","level":"plateauB","x":827,"y":423},{"id":"bb","level":"plateauB","x":807,"y":425},{"id":"bb","level":"plateauB","x":797,"y":418},{"id":"bb","level":"plateauB","x":783,"y":408},{"id":"bb","level":"plateauB","x":767,"y":392},{"id":"bb","level":"plateauB","x":750,"y":393},{"id":"bb","level":"plateauB","x":740,"y":383},{"id":"bb","level":"plateauB","x":730,"y":370},
{"id":"bl","level":"left","x":717,"y":350},{"id":"bl","level":"left","x":737,"y":355},{"id":"bl","level":"left","x":753,"y":352},{"id":"bl","level":"left","x":773,"y":340},{"id":"bl","level":"left","x":790,"y":345},{"id":"bl","level":"left","x":800,"y":355},{"id":"bl","level":"left","x":790,"y":370},{"id":"bl","level":"left","x":767,"y":392},{"id":"bl","level":"left","x":750,"y":393},{"id":"bl","level":"left","x":740,"y":383},{"id":"bl","level":"left","x":730,"y":370},
{"id":"sw","level":"pale3","x":1023,"y":400},{"id":"sw","level":"pale3","x":1030,"y":417},{"id":"sw","level":"pale3","x":1037,"y":453},{"id":"sw","level":"pale3","x":1043,"y":455},{"id":"sw","level":"pale3","x":1020,"y":440},{"id":"sw","level":"pale3","x":1007,"y":433},{"id":"sw","level":"pale3","x":1015,"y":403},
{"id":"b16","level":"white","x":912,"y":475},{"id":"b16","level":"white","x":930,"y":482},{"id":"b16","level":"white","x":985,"y":478},{"id":"b16","level":"white","x":983,"y":497},{"id":"b16","level":"white","x":963,"y":515},{"id":"b16","level":"white","x":930,"y":507},{"id":"b16","level":"white","x":920,"y":490},
{"id":"b15","level":"cream","x":893,"y":445},{"id":"b15","level":"cream","x":960,"y":450},{"id":"b15","level":"cream","x":1007,"y":433},{"id":"b15","level":"cream","x":993,"y":473},{"id":"b15","level":"cream","x":985,"y":478},{"id":"b15","level":"cream","x":930,"y":482},{"id":"b15","level":"cream","x":912,"y":475},{"id":"b15","level":"cream","x":903,"y":460},
{"id":"b14","level":"pale2","x":783,"y":400},{"id":"b14","level":"pale2","x":855,"y":405},{"id":"b14","level":"pale2","x":925,"y":425},{"id":"b14","level":"pale2","x":985,"y":415},{"id":"b14","level":"pale2","x":1022,"y":398},{"id":"b14","level":"pale2","x":1007,"y":433},{"id":"b14","level":"pale2","x":960,"y":450},{"id":"b14","level":"pale2","x":893,"y":445},{"id":"b14","level":"pale2","x":887,"y":437},{"id":"b14","level":"pale2","x":873,"y":427},{"id":"b14","level":"pale2","x":853,"y":427},{"id":"b14","level":"pale2","x":827,"y":423},{"id":"b14","level":"pale2","x":807,"y":425},{"id":"b14","level":"pale2","x":797,"y":418},{"id":"b14","level":"pale2","x":783,"y":408},
{"id":"b13","level":"pale1","x":790,"y":365},{"id":"b13","level":"pale1","x":853,"y":378},{"id":"b13","level":"pale1","x":920,"y":395},{"id":"b13","level":"pale1","x":975,"y":390},{"id":"b13","level":"pale1","x":1020,"y":378},{"id":"b13","level":"pale1","x":1022,"y":398},{"id":"b13","level":"pale1","x":985,"y":415},{"id":"b13","level":"pale1","x":925,"y":425},{"id":"b13","level":"pale1","x":855,"y":405},{"id":"b13","level":"pale1","x":783,"y":400},
{"id":"b12","level":"yel","x":800,"y":360},{"id":"b12","level":"yel","x":813,"y":347},{"id":"b12","level":"yel","x":850,"y":350},{"id":"b12","level":"yel","x":873,"y":363},{"id":"b12","level":"yel","x":923,"y":372},{"id":"b12","level":"yel","x":973,"y":363},{"id":"b12","level":"yel","x":1012,"y":348},{"id":"b12","level":"yel","x":1020,"y":378},{"id":"b12","level":"yel","x":975,"y":390},{"id":"b12","level":"yel","x":920,"y":395},{"id":"b12","level":"yel","x":853,"y":378},{"id":"b12","level":"yel","x":790,"y":365},
{"id":"b11p","level":"gold2","x":854,"y":330},{"id":"b11p","level":"gold2","x":885,"y":345},{"id":"b11p","level":"gold2","x":925,"y":353},{"id":"b11p","level":"gold2","x":965,"y":347},{"id":"b11p","level":"gold2","x":1005,"y":333},{"id":"b11p","level":"gold2","x":1012,"y":348},{"id":"b11p","level":"gold2","x":973,"y":363},{"id":"b11p","level":"gold2","x":923,"y":372},{"id":"b11p","level":"gold2","x":873,"y":363},{"id":"b11p","level":"gold2","x":850,"y":350},
{"id":"b10p","level":"gold1","x":860,"y":308},{"id":"b10p","level":"gold1","x":890,"y":325},{"id":"b10p","level":"gold1","x":925,"y":335},{"id":"b10p","level":"gold1","x":965,"y":333},{"id":"b10p","level":"gold1","x":998,"y":317},{"id":"b10p","level":"gold1","x":1005,"y":333},{"id":"b10p","level":"gold1","x":965,"y":347},{"id":"b10p","level":"gold1","x":925,"y":353},{"id":"b10p","level":"gold1","x":885,"y":345},{"id":"b10p","level":"gold1","x":854,"y":330},
{"id":"b9p","level":"or3","x":865,"y":285},{"id":"b9p","level":"or3","x":890,"y":305},{"id":"b9p","level":"or3","x":920,"y":310},{"id":"b9p","level":"or3","x":955,"y":305},{"id":"b9p","level":"or3","x":990,"y":290},{"id":"b9p","level":"or3","x":998,"y":317},{"id":"b9p","level":"or3","x":965,"y":333},{"id":"b9p","level":"or3","x":925,"y":335},{"id":"b9p","level":"or3","x":890,"y":325},{"id":"b9p","level":"or3","x":860,"y":308},
{"id":"b8p","level":"or2","x":870,"y":263},{"id":"b8p","level":"or2","x":890,"y":278},{"id":"b8p","level":"or2","x":920,"y":282},{"id":"b8p","level":"or2","x":950,"y":277},{"id":"b8p","level":"or2","x":983,"y":267},{"id":"b8p","level":"or2","x":990,"y":290},{"id":"b8p","level":"or2","x":955,"y":305},{"id":"b8p","level":"or2","x":920,"y":310},{"id":"b8p","level":"or2","x":890,"y":305},{"id":"b8p","level":"or2","x":865,"y":285},
{"id":"b7p","level":"or1","x":875,"y":243},{"id":"b7p","level":"or1","x":888,"y":253},{"id":"b7p","level":"or1","x":920,"y":259},{"id":"b7p","level":"or1","x":947,"y":255},{"id":"b7p","level":"or1","x":977,"y":250},{"id":"b7p","level":"or1","x":983,"y":267},{"id":"b7p","level":"or1","x":950,"y":277},{"id":"b7p","level":"or1","x":920,"y":282},{"id":"b7p","level":"or1","x":890,"y":278},{"id":"b7p","level":"or1","x":870,"y":263},
{"id":"b6p","level":"brick","x":879,"y":223},{"id":"b6p","level":"brick","x":888,"y":238},{"id":"b6p","level":"brick","x":920,"y":243},{"id":"b6p","level":"brick","x":947,"y":238},{"id":"b6p","level":"brick","x":973,"y":235},{"id":"b6p","level":"brick","x":977,"y":250},{"id":"b6p","level":"brick","x":947,"y":255},{"id":"b6p","level":"brick","x":920,"y":259},{"id":"b6p","level":"brick","x":888,"y":253},{"id":"b6p","level":"brick","x":875,"y":243},
{"id":"b5p","level":"red2","x":883,"y":207},{"id":"b5p","level":"red2","x":890,"y":225},{"id":"b5p","level":"red2","x":920,"y":227},{"id":"b5p","level":"red2","x":947,"y":223},{"id":"b5p","level":"red2","x":969,"y":220},{"id":"b5p","level":"red2","x":973,"y":235},{"id":"b5p","level":"red2","x":947,"y":238},{"id":"b5p","level":"red2","x":920,"y":243},{"id":"b5p","level":"red2","x":888,"y":238},{"id":"b5p","level":"red2","x":879,"y":223},
{"id":"b4p","level":"red1","x":888,"y":195},{"id":"b4p","level":"red1","x":908,"y":210},{"id":"b4p","level":"red1","x":937,"y":205},{"id":"b4p","level":"red1","x":966,"y":202},{"id":"b4p","level":"red1","x":969,"y":220},{"id":"b4p","level":"red1","x":947,"y":223},{"id":"b4p","level":"red1","x":920,"y":227},{"id":"b4p","level":"red1","x":890,"y":225},{"id":"b4p","level":"red1","x":883,"y":207},
{"id":"b3p","level":"black","x":892,"y":182},{"id":"b3p","level":"black","x":910,"y":192},{"id":"b3p","level":"black","x":933,"y":188},{"id":"b3p","level":"black","x":960,"y":185},{"id":"b3p","level":"black","x":966,"y":202},{"id":"b3p","level":"black","x":937,"y":205},{"id":"b3p","level":"black","x":908,"y":210},{"id":"b3p","level":"black","x":888,"y":195},
{"id":"b2p","level":"navy","x":892,"y":182},{"id":"b2p","level":"navy","x":895,"y":168},{"id":"b2p","level":"navy","x":910,"y":155},{"id":"b2p","level":"navy","x":933,"y":157},{"id":"b2p","level":"navy","x":950,"y":163},{"id":"b2p","level":"navy","x":958,"y":180},{"id":"b2p","level":"navy","x":960,"y":185},{"id":"b2p","level":"navy","x":933,"y":188},{"id":"b2p","level":"navy","x":910,"y":192}
],
"frontMesh":[
{"id":"f1","x":104,"y":407},{"id":"f1","x":170,"y":355},{"id":"f1","x":233,"y":302},
{"id":"f1b","x":110,"y":405},{"id":"f1b","x":175,"y":354},{"id":"f1b","x":239,"y":302},
{"id":"f2","x":116,"y":404},{"id":"f2","x":180,"y":352},{"id":"f2","x":245,"y":302},
{"id":"f2b","x":122,"y":403},{"id":"f2b","x":186,"y":352},{"id":"f2b","x":252,"y":302},
{"id":"f3","x":128,"y":402},{"id":"f3","x":192,"y":352},{"id":"f3","x":258,"y":302},
{"id":"f3b","x":134,"y":401},{"id":"f3b","x":198,"y":351},{"id":"f3b","x":264,"y":302},
{"id":"f4","x":140,"y":400},{"id":"f4","x":205,"y":350},{"id":"f4","x":270,"y":303},
{"id":"f4b","x":146,"y":399},{"id":"f4b","x":211,"y":351},{"id":"f4b","x":276,"y":305},
{"id":"f5","x":152,"y":398},{"id":"f5","x":217,"y":352},{"id":"f5","x":282,"y":306},
{"id":"f5b","x":158,"y":397},{"id":"f5b","x":223,"y":353},{"id":"f5b","x":288,"y":308},
{"id":"f6","x":164,"y":397},{"id":"f6","x":230,"y":355},{"id":"f6","x":294,"y":311},
{"id":"f6b","x":170,"y":398},{"id":"f6b","x":235,"y":357},{"id":"f6b","x":300,"y":314},
{"id":"f7","x":176,"y":400},{"id":"f7","x":240,"y":358},{"id":"f7","x":305,"y":317},
{"id":"f7b","x":182,"y":401},{"id":"f7b","x":246,"y":360},{"id":"f7b","x":311,"y":319},
{"id":"f8","x":188,"y":402},{"id":"f8","x":252,"y":362},{"id":"f8","x":317,"y":321},
{"id":"f8b","x":194,"y":404},{"id":"f8b","x":258,"y":364},{"id":"f8b","x":323,"y":323},
{"id":"f9","x":200,"y":407},{"id":"f9","x":265,"y":366},{"id":"f9","x":330,"y":325},
{"id":"f9b","x":206,"y":409},{"id":"f9b","x":271,"y":367},{"id":"f9b","x":336,"y":326},
{"id":"f10","x":212,"y":411},{"id":"f10","x":278,"y":368},{"id":"f10","x":343,"y":326},
{"id":"f10b","x":218,"y":413},{"id":"f10b","x":284,"y":369},{"id":"f10b","x":349,"y":324},
{"id":"f11","x":224,"y":414},{"id":"f11","x":290,"y":370},{"id":"f11","x":355,"y":322},
{"id":"f11b","x":230,"y":415},{"id":"f11b","x":295,"y":371},{"id":"f11b","x":354,"y":328},
{"id":"f12","x":236,"y":416},{"id":"f12","x":300,"y":372},{"id":"f12","x":352,"y":333},{"id":"f12","x":368,"y":280},
{"id":"f12b","x":243,"y":416},{"id":"f12b","x":315,"y":368},{"id":"f12b","x":355,"y":330},{"id":"f12b","x":373,"y":265},
{"id":"f0a","x":108,"y":392},{"id":"f0a","x":127,"y":378},{"id":"f0a","x":160,"y":355},
{"id":"f0b","x":106,"y":399},{"id":"f0b","x":127,"y":385},{"id":"f0b","x":165,"y":355},{"id":"f0b","x":203,"y":325},
{"id":"m1","x":250,"y":417},{"id":"m1","x":330,"y":365},{"id":"m1","x":362,"y":320},{"id":"m1","x":378,"y":250},{"id":"m1","x":400,"y":180},
{"id":"m2","x":270,"y":418},{"id":"m2","x":345,"y":365},{"id":"m2","x":372,"y":320},{"id":"m2","x":390,"y":250},{"id":"m2","x":412,"y":175},
{"id":"m3","x":290,"y":418},{"id":"m3","x":360,"y":365},{"id":"m3","x":385,"y":330},{"id":"m3","x":402,"y":250},{"id":"m3","x":425,"y":170},
{"id":"m4","x":310,"y":420},{"id":"m4","x":375,"y":372},{"id":"m4","x":398,"y":335},{"id":"m4","x":415,"y":250},{"id":"m4","x":435,"y":165},
{"id":"m5","x":330,"y":426},{"id":"m5","x":390,"y":378},{"id":"m5","x":412,"y":340},{"id":"m5","x":428,"y":250},{"id":"m5","x":445,"y":165},
{"id":"m6","x":350,"y":431},{"id":"m6","x":405,"y":385},{"id":"m6","x":425,"y":342},{"id":"m6","x":441,"y":250},{"id":"m6","x":455,"y":165},
{"id":"m7","x":370,"y":441},{"id":"m7","x":420,"y":395},{"id":"m7","x":440,"y":345},{"id":"m7","x":453,"y":250},{"id":"m7","x":465,"y":165},
{"id":"m8","x":390,"y":448},{"id":"m8","x":437,"y":400},{"id":"m8","x":455,"y":345},{"id":"m8","x":466,"y":250},{"id":"m8","x":475,"y":165},
{"id":"m9","x":410,"y":451},{"id":"m9","x":452,"y":405},{"id":"m9","x":470,"y":345},{"id":"m9","x":479,"y":250},{"id":"m9","x":485,"y":165},
{"id":"m10","x":430,"y":454},{"id":"m10","x":468,"y":400},{"id":"m10","x":485,"y":345},{"id":"m10","x":492,"y":250},{"id":"m10","x":492,"y":170},
{"id":"m11","x":450,"y":460},{"id":"m11","x":480,"y":400},{"id":"m11","x":498,"y":345},{"id":"m11","x":504,"y":250},{"id":"m11","x":498,"y":185},
{"id":"m12","x":470,"y":460},{"id":"m12","x":490,"y":400},{"id":"m12","x":508,"y":345},{"id":"m12","x":517,"y":250},{"id":"m12","x":505,"y":195},
{"id":"mb1","x":260,"y":417},{"id":"mb1","x":338,"y":365},{"id":"mb1","x":367,"y":320},{"id":"mb1","x":384,"y":250},{"id":"mb1","x":406,"y":178},
{"id":"mb2","x":280,"y":418},{"id":"mb2","x":352,"y":365},{"id":"mb2","x":378,"y":325},{"id":"mb2","x":396,"y":250},{"id":"mb2","x":418,"y":172},
{"id":"mb3","x":300,"y":419},{"id":"mb3","x":367,"y":368},{"id":"mb3","x":391,"y":332},{"id":"mb3","x":408,"y":250},{"id":"mb3","x":430,"y":168},
{"id":"mb4","x":320,"y":423},{"id":"mb4","x":382,"y":375},{"id":"mb4","x":405,"y":338},{"id":"mb4","x":421,"y":250},{"id":"mb4","x":440,"y":165},
{"id":"mb5","x":340,"y":428},{"id":"mb5","x":397,"y":381},{"id":"mb5","x":418,"y":341},{"id":"mb5","x":434,"y":250},{"id":"mb5","x":450,"y":165},
{"id":"mb6","x":360,"y":436},{"id":"mb6","x":412,"y":390},{"id":"mb6","x":432,"y":343},{"id":"mb6","x":447,"y":250},{"id":"mb6","x":460,"y":165},
{"id":"mb7","x":380,"y":445},{"id":"mb7","x":428,"y":397},{"id":"mb7","x":447,"y":345},{"id":"mb7","x":459,"y":250},{"id":"mb7","x":470,"y":165},
{"id":"mb8","x":400,"y":450},{"id":"mb8","x":444,"y":402},{"id":"mb8","x":462,"y":345},{"id":"mb8","x":472,"y":250},{"id":"mb8","x":480,"y":165},
{"id":"mb9","x":420,"y":452},{"id":"mb9","x":460,"y":402},{"id":"mb9","x":477,"y":345},{"id":"mb9","x":485,"y":250},{"id":"mb9","x":488,"y":167},
{"id":"mb10","x":440,"y":457},{"id":"mb10","x":474,"y":400},{"id":"mb10","x":491,"y":345},{"id":"mb10","x":498,"y":250},{"id":"mb10","x":495,"y":177},
{"id":"mb11","x":460,"y":462},{"id":"mb11","x":485,"y":400},{"id":"mb11","x":503,"y":345},{"id":"mb11","x":510,"y":250},{"id":"mb11","x":501,"y":190},
{"id":"t1","x":119,"y":390},{"id":"t1","x":143,"y":385},{"id":"t1","x":173,"y":385},{"id":"t1","x":203,"y":396},{"id":"t1","x":246,"y":401},{"id":"t1","x":279,"y":401},{"id":"t1","x":306,"y":405},{"id":"t1","x":346,"y":418},{"id":"t1","x":381,"y":433},{"id":"t1","x":409,"y":435},{"id":"t1","x":437,"y":440},{"id":"t1","x":470,"y":445},{"id":"t1","x":490,"y":430},
{"id":"t2","x":127,"y":385},{"id":"t2","x":150,"y":378},{"id":"t2","x":182,"y":378},{"id":"t2","x":212,"y":390},{"id":"t2","x":255,"y":395},{"id":"t2","x":288,"y":395},{"id":"t2","x":315,"y":400},{"id":"t2","x":355,"y":412},{"id":"t2","x":390,"y":426},{"id":"t2","x":418,"y":429},{"id":"t2","x":446,"y":434},{"id":"t2","x":476,"y":435},{"id":"t2","x":494,"y":420},
{"id":"t3","x":135,"y":380},{"id":"t3","x":160,"y":372},{"id":"t3","x":190,"y":372},{"id":"t3","x":220,"y":384},{"id":"t3","x":263,"y":390},{"id":"t3","x":296,"y":390},{"id":"t3","x":323,"y":394},{"id":"t3","x":363,"y":407},{"id":"t3","x":398,"y":420},{"id":"t3","x":426,"y":423},{"id":"t3","x":454,"y":428},{"id":"t3","x":480,"y":425},{"id":"t3","x":497,"y":410},
{"id":"t4","x":145,"y":368},{"id":"t4","x":168,"y":365},{"id":"t4","x":198,"y":366},{"id":"t4","x":228,"y":378},{"id":"t4","x":272,"y":384},{"id":"t4","x":305,"y":384},{"id":"t4","x":332,"y":388},{"id":"t4","x":372,"y":401},{"id":"t4","x":407,"y":414},{"id":"t4","x":435,"y":417},{"id":"t4","x":462,"y":420},{"id":"t4","x":485,"y":415},{"id":"t4","x":500,"y":400},
{"id":"t5","x":155,"y":358},{"id":"t5","x":178,"y":358},{"id":"t5","x":208,"y":362},{"id":"t5","x":238,"y":373},{"id":"t5","x":281,"y":378},{"id":"t5","x":314,"y":378},{"id":"t5","x":341,"y":382},{"id":"t5","x":381,"y":395},{"id":"t5","x":416,"y":408},{"id":"t5","x":444,"y":411},{"id":"t5","x":470,"y":412},{"id":"t5","x":490,"y":405},{"id":"t5","x":503,"y":390},
{"id":"t6","x":165,"y":350},{"id":"t6","x":188,"y":352},{"id":"t6","x":218,"y":356},{"id":"t6","x":248,"y":366},{"id":"t6","x":290,"y":371},{"id":"t6","x":323,"y":371},{"id":"t6","x":350,"y":376},{"id":"t6","x":390,"y":390},{"id":"t6","x":425,"y":401},{"id":"t6","x":453,"y":403},{"id":"t6","x":478,"y":403},{"id":"t6","x":505,"y":382},
{"id":"t7","x":175,"y":340},{"id":"t7","x":197,"y":345},{"id":"t7","x":227,"y":350},{"id":"t7","x":257,"y":360},{"id":"t7","x":300,"y":365},{"id":"t7","x":333,"y":365},{"id":"t7","x":360,"y":370},{"id":"t7","x":400,"y":385},{"id":"t7","x":435,"y":395},{"id":"t7","x":462,"y":395},{"id":"t7","x":485,"y":395},{"id":"t7","x":507,"y":375},
{"id":"t8","x":185,"y":333},{"id":"t8","x":207,"y":338},{"id":"t8","x":237,"y":344},{"id":"t8","x":267,"y":353},{"id":"t8","x":310,"y":358},{"id":"t8","x":343,"y":358},{"id":"t8","x":370,"y":364},{"id":"t8","x":410,"y":380},{"id":"t8","x":445,"y":388},{"id":"t8","x":472,"y":388},{"id":"t8","x":509,"y":370},
{"id":"t9","x":194,"y":325},{"id":"t9","x":217,"y":330},{"id":"t9","x":247,"y":338},{"id":"t9","x":277,"y":347},{"id":"t9","x":320,"y":352},{"id":"t9","x":353,"y":352},{"id":"t9","x":382,"y":358},{"id":"t9","x":420,"y":375},{"id":"t9","x":455,"y":382},{"id":"t9","x":482,"y":382},{"id":"t9","x":510,"y":365},
{"id":"t10","x":203,"y":318},{"id":"t10","x":227,"y":322},{"id":"t10","x":257,"y":330},{"id":"t10","x":287,"y":340},{"id":"t10","x":330,"y":346},{"id":"t10","x":352,"y":345},
{"id":"t11","x":213,"y":312},{"id":"t11","x":237,"y":315},{"id":"t11","x":267,"y":323},{"id":"t11","x":297,"y":333},{"id":"t11","x":340,"y":340},{"id":"t11","x":354,"y":336},
{"id":"t12","x":226,"y":305},{"id":"t12","x":250,"y":305},{"id":"t12","x":280,"y":312},{"id":"t12","x":310,"y":322},{"id":"t12","x":345,"y":326},
{"id":"c1","x":202,"y":320},{"id":"c1","x":205,"y":332},{"id":"c1","x":225,"y":340},{"id":"c1","x":265,"y":342},{"id":"c1","x":290,"y":330},{"id":"c1","x":292,"y":315},
{"id":"c2","x":145,"y":355},{"id":"c2","x":165,"y":365},{"id":"c2","x":210,"y":368},{"id":"c2","x":235,"y":375},{"id":"c2","x":245,"y":395},{"id":"c2","x":225,"y":410},
{"id":"c3","x":302,"y":400},{"id":"c3","x":302,"y":385},{"id":"c3","x":330,"y":365},{"id":"c3","x":335,"y":350},
{"id":"g1","x":383,"y":235},{"id":"g1","x":405,"y":241},{"id":"g1","x":440,"y":245},{"id":"g1","x":475,"y":242},{"id":"g1","x":505,"y":235},{"id":"g1","x":523,"y":227},
{"id":"g2","x":376,"y":258},{"id":"g2","x":402,"y":266},{"id":"g2","x":440,"y":270},{"id":"g2","x":480,"y":269},{"id":"g2","x":512,"y":260},{"id":"g2","x":532,"y":251},
{"id":"g3","x":370,"y":278},{"id":"g3","x":400,"y":292},{"id":"g3","x":440,"y":298},{"id":"g3","x":480,"y":297},{"id":"g3","x":518,"y":287},{"id":"g3","x":542,"y":276},
{"id":"g4","x":364,"y":292},{"id":"g4","x":410,"y":316},{"id":"g4","x":440,"y":320},{"id":"g4","x":485,"y":319},{"id":"g4","x":520,"y":310},{"id":"g4","x":550,"y":296},
{"id":"g5","x":360,"y":310},{"id":"g5","x":400,"y":338},{"id":"g5","x":440,"y":339},{"id":"g5","x":490,"y":337},{"id":"g5","x":522,"y":332},{"id":"g5","x":545,"y":306},
{"id":"g6","x":388,"y":214},{"id":"g6","x":408,"y":219},{"id":"g6","x":440,"y":222},{"id":"g6","x":473,"y":219},{"id":"g6","x":498,"y":212},{"id":"g6","x":516,"y":206},
{"id":"d1","x":385,"y":262},{"id":"d1","x":398,"y":300},{"id":"d1","x":410,"y":265},{"id":"d1","x":425,"y":305},{"id":"d1","x":437,"y":265},{"id":"d1","x":450,"y":305},{"id":"d1","x":462,"y":265},{"id":"d1","x":478,"y":305},{"id":"d1","x":490,"y":265},{"id":"d1","x":500,"y":300},
{"id":"d2","x":355,"y":345},{"id":"d2","x":395,"y":400},{"id":"d2","x":430,"y":450},
{"id":"d3","x":405,"y":360},{"id":"d3","x":440,"y":425},{"id":"d3","x":465,"y":462},
{"id":"d4","x":525,"y":340},{"id":"d4","x":500,"y":400},{"id":"d4","x":455,"y":445},
{"id":"k1","x":897,"y":170},{"id":"k1","x":882,"y":240},{"id":"k1","x":860,"y":320},{"id":"k1","x":815,"y":380},{"id":"k1","x":790,"y":412},
{"id":"k2","x":905,"y":160},{"id":"k2","x":895,"y":240},{"id":"k2","x":875,"y":325},{"id":"k2","x":835,"y":390},{"id":"k2","x":815,"y":424},
{"id":"k3","x":912,"y":158},{"id":"k3","x":905,"y":240},{"id":"k3","x":890,"y":340},{"id":"k3","x":860,"y":395},{"id":"k3","x":840,"y":425},
{"id":"k4","x":920,"y":156},{"id":"k4","x":915,"y":243},{"id":"k4","x":905,"y":350},{"id":"k4","x":880,"y":400},{"id":"k4","x":866,"y":427},
{"id":"k5","x":927,"y":156},{"id":"k5","x":925,"y":243},{"id":"k5","x":920,"y":355},{"id":"k5","x":900,"y":410},{"id":"k5","x":885,"y":436},
{"id":"k6","x":934,"y":158},{"id":"k6","x":935,"y":243},{"id":"k6","x":932,"y":355},{"id":"k6","x":920,"y":420},{"id":"k6","x":900,"y":468},
{"id":"k7","x":941,"y":160},{"id":"k7","x":945,"y":240},{"id":"k7","x":948,"y":350},{"id":"k7","x":940,"y":430},{"id":"k7","x":917,"y":483},
{"id":"k8","x":948,"y":163},{"id":"k8","x":953,"y":238},{"id":"k8","x":960,"y":348},{"id":"k8","x":958,"y":430},{"id":"k8","x":932,"y":508},
{"id":"k9","x":954,"y":172},{"id":"k9","x":962,"y":238},{"id":"k9","x":972,"y":345},{"id":"k9","x":972,"y":430},{"id":"k9","x":948,"y":511},
{"id":"k10","x":958,"y":182},{"id":"k10","x":969,"y":238},{"id":"k10","x":985,"y":340},{"id":"k10","x":985,"y":420},{"id":"k10","x":960,"y":515},
{"id":"k11","x":965,"y":205},{"id":"k11","x":975,"y":250},{"id":"k11","x":998,"y":330},{"id":"k11","x":1000,"y":405},{"id":"k11","x":975,"y":505},
{"id":"kb1","x":901,"y":165},{"id":"kb1","x":888,"y":240},{"id":"kb1","x":867,"y":322},{"id":"kb1","x":825,"y":385},{"id":"kb1","x":802,"y":418},
{"id":"kb2","x":908,"y":159},{"id":"kb2","x":900,"y":240},{"id":"kb2","x":882,"y":332},{"id":"kb2","x":847,"y":392},{"id":"kb2","x":827,"y":424},
{"id":"kb3","x":916,"y":157},{"id":"kb3","x":910,"y":241},{"id":"kb3","x":897,"y":345},{"id":"kb3","x":870,"y":397},{"id":"kb3","x":853,"y":426},
{"id":"kb4","x":923,"y":156},{"id":"kb4","x":920,"y":243},{"id":"kb4","x":912,"y":352},{"id":"kb4","x":890,"y":405},{"id":"kb4","x":875,"y":431},
{"id":"kb5","x":930,"y":157},{"id":"kb5","x":930,"y":243},{"id":"kb5","x":926,"y":355},{"id":"kb5","x":910,"y":415},{"id":"kb5","x":892,"y":452},
{"id":"kb6","x":937,"y":159},{"id":"kb6","x":940,"y":241},{"id":"kb6","x":940,"y":352},{"id":"kb6","x":930,"y":425},{"id":"kb6","x":908,"y":475},
{"id":"kb7","x":944,"y":161},{"id":"kb7","x":949,"y":239},{"id":"kb7","x":954,"y":349},{"id":"kb7","x":949,"y":430},{"id":"kb7","x":924,"y":495},
{"id":"kb8","x":951,"y":167},{"id":"kb8","x":957,"y":238},{"id":"kb8","x":966,"y":346},{"id":"kb8","x":965,"y":430},{"id":"kb8","x":940,"y":510},
{"id":"kb9","x":956,"y":177},{"id":"kb9","x":965,"y":238},{"id":"kb9","x":978,"y":342},{"id":"kb9","x":978,"y":425},{"id":"kb9","x":954,"y":513},
{"id":"kb10","x":961,"y":193},{"id":"kb10","x":972,"y":244},{"id":"kb10","x":991,"y":335},{"id":"kb10","x":992,"y":412},{"id":"kb10","x":967,"y":510},
{"id":"k12","x":900,"y":172},{"id":"k12","x":955,"y":172},{"id":"k13","x":905,"y":160},{"id":"k13","x":948,"y":163},
{"id":"j0","x":873,"y":252},{"id":"j0","x":890,"y":266},{"id":"j0","x":920,"y":270},{"id":"j0","x":950,"y":266},{"id":"j0","x":980,"y":258},
{"id":"j1","x":867,"y":275},{"id":"j1","x":890,"y":292},{"id":"j1","x":920,"y":296},{"id":"j1","x":952,"y":291},{"id":"j1","x":987,"y":279},
{"id":"j2","x":862,"y":297},{"id":"j2","x":890,"y":315},{"id":"j2","x":920,"y":322},{"id":"j2","x":960,"y":319},{"id":"j2","x":994,"y":303},
{"id":"j3","x":857,"y":319},{"id":"j3","x":888,"y":335},{"id":"j3","x":925,"y":344},{"id":"j3","x":965,"y":340},{"id":"j3","x":1002,"y":325},
{"id":"j4","x":852,"y":340},{"id":"j4","x":880,"y":354},{"id":"j4","x":925,"y":362},{"id":"j4","x":970,"y":355},{"id":"j4","x":1008,"y":340},
{"id":"j5","x":845,"y":360},{"id":"j5","x":885,"y":377},{"id":"j5","x":922,"y":384},{"id":"j5","x":975,"y":377},{"id":"j5","x":1016,"y":362},
{"id":"j6","x":790,"y":378},{"id":"j6","x":855,"y":392},{"id":"j6","x":922,"y":410},{"id":"j6","x":980,"y":402},{"id":"j6","x":1021,"y":388},
{"id":"j7","x":770,"y":380},{"id":"j7","x":800,"y":405},{"id":"j7","x":855,"y":414},{"id":"j7","x":925,"y":432},{"id":"j7","x":985,"y":420},{"id":"j7","x":1015,"y":415},
{"id":"j8","x":810,"y":420},{"id":"j8","x":860,"y":423},{"id":"j8","x":925,"y":444},{"id":"j8","x":985,"y":432},{"id":"j8","x":1010,"y":425},
{"id":"j9","x":885,"y":435},{"id":"j9","x":925,"y":458},{"id":"j9","x":985,"y":447},{"id":"j9","x":1005,"y":440},
{"id":"j10","x":897,"y":452},{"id":"j10","x":925,"y":470},{"id":"j10","x":985,"y":462},{"id":"j10","x":1000,"y":455},
{"id":"j11","x":910,"y":472},{"id":"j11","x":930,"y":484},{"id":"j11","x":985,"y":477},{"id":"j11","x":993,"y":472},
{"id":"j12","x":920,"y":491},{"id":"j12","x":940,"y":496},{"id":"j12","x":985,"y":492},
{"id":"j13","x":930,"y":504},{"id":"j13","x":950,"y":507},{"id":"j13","x":975,"y":505},
{"id":"y1","x":878,"y":265},{"id":"y1","x":888,"y":295},{"id":"y1","x":898,"y":265},{"id":"y1","x":908,"y":297},{"id":"y1","x":918,"y":268},{"id":"y1","x":928,"y":300},{"id":"y1","x":938,"y":268},{"id":"y1","x":948,"y":297},{"id":"y1","x":958,"y":265},{"id":"y1","x":968,"y":295},{"id":"y1","x":978,"y":268},
{"id":"y2","x":870,"y":325},{"id":"y2","x":885,"y":360},{"id":"y2","x":900,"y":335},{"id":"y2","x":915,"y":375},{"id":"y2","x":930,"y":340},{"id":"y2","x":945,"y":375},{"id":"y2","x":960,"y":335},{"id":"y2","x":975,"y":370},{"id":"y2","x":990,"y":330},
{"id":"y3","x":840,"y":378},{"id":"y3","x":865,"y":420},{"id":"y3","x":890,"y":385},{"id":"y3","x":915,"y":445},{"id":"y3","x":940,"y":395},{"id":"y3","x":965,"y":450},{"id":"y3","x":990,"y":395},{"id":"y3","x":1000,"y":440},
{"id":"u1","x":725,"y":358},{"id":"u1","x":745,"y":372},{"id":"u1","x":760,"y":378},{"id":"u1","x":783,"y":365},{"id":"u1","x":800,"y":355},
{"id":"u2","x":735,"y":357},{"id":"u2","x":752,"y":368},{"id":"u2","x":770,"y":370},{"id":"u2","x":790,"y":352},
{"id":"u3","x":745,"y":356},{"id":"u3","x":762,"y":360},{"id":"u3","x":780,"y":350},
{"id":"u4","x":755,"y":352},{"id":"u4","x":772,"y":350},
{"id":"u5","x":728,"y":368},{"id":"u5","x":755,"y":385},{"id":"u5","x":775,"y":385},{"id":"u5","x":800,"y":372},{"id":"u5","x":815,"y":360},
{"id":"u6","x":730,"y":370},{"id":"u6","x":752,"y":352},
{"id":"u7","x":740,"y":383},{"id":"u7","x":773,"y":342},
{"id":"u8","x":750,"y":393},{"id":"u8","x":790,"y":347},
{"id":"u9","x":767,"y":392},{"id":"u9","x":805,"y":352},
{"id":"u10","x":783,"y":408},{"id":"u10","x":825,"y":350},
{"id":"u11","x":797,"y":418},{"id":"u11","x":845,"y":356},
{"id":"u12","x":827,"y":423},{"id":"u12","x":868,"y":362},
{"id":"v1","x":1016,"y":406},{"id":"v1","x":1024,"y":443},{"id":"v2","x":1020,"y":402},{"id":"v2","x":1032,"y":448},{"id":"v3","x":1026,"y":408},{"id":"v3","x":1038,"y":452},{"id":"v4","x":1012,"y":418},{"id":"v4","x":1032,"y":425},{"id":"v5","x":1010,"y":428},{"id":"v5","x":1035,"y":438}
],
"yTitles":[{"t":"Odczyt sondy [jednostki umowne]","x":71,"y":272},{"t":"Odczyt sondy [jednostki umowne]","x":661,"y":323}],
"xTitles":[{"t":"Położenie sondy [mm]","x":237,"y":491},{"t":"Położenie sondy [mm]","x":788,"y":500}],
"zTitles":[{"t":"Położenie sondy [mm]","x":534,"y":471},{"t":"Położenie sondy [mm]","x":1078,"y":465}],
"letters":[{"t":"A","x":315,"y":135},{"t":"B","x":857,"y":134}],
"ticksA":[{"t":"1","x":102,"y":433},{"t":"3","x":119,"y":438},{"t":"5","x":135,"y":441},{"t":"7","x":149,"y":445},{"t":"9","x":164,"y":448},{"t":"11","x":180,"y":453},{"t":"13","x":195,"y":457},{"t":"15","x":210,"y":461},{"t":"17","x":226,"y":467},{"t":"19","x":241,"y":469},{"t":"21","x":257,"y":475},{"t":"23","x":272,"y":477},{"t":"25","x":287,"y":480},{"t":"27","x":302,"y":485},{"t":"29","x":317,"y":488},{"t":"31","x":332,"y":492},{"t":"33","x":347,"y":496},{"t":"35","x":362,"y":499},{"t":"37","x":378,"y":503},{"t":"39","x":392,"y":507},{"t":"41","x":408,"y":511},{"t":"43","x":424,"y":514},{"t":"45","x":439,"y":517},{"t":"47","x":455,"y":522}],
"ticksB":[{"t":"1","x":714,"y":463},{"t":"4","x":732,"y":467},{"t":"7","x":747,"y":471},{"t":"10","x":763,"y":476},{"t":"13","x":779,"y":480},{"t":"16","x":795,"y":484},{"t":"19","x":812,"y":489},{"t":"22","x":828,"y":493},{"t":"25","x":844,"y":497},{"t":"28","x":860,"y":501},{"t":"31","x":877,"y":505},{"t":"34","x":892,"y":509},{"t":"37","x":908,"y":513},{"t":"40","x":924,"y":517},{"t":"43","x":941,"y":520},{"t":"46","x":957,"y":524}],
"ticksY":[{"t":"1.10","x":707,"y":164},{"t":"1.05","x":707,"y":178.6},{"t":"1.00","x":707,"y":193},{"t":"0.95","x":707,"y":207.6},{"t":"0.90","x":707,"y":222},{"t":"0.85","x":707,"y":236.6},{"t":"0.80","x":707,"y":251},{"t":"0.75","x":707,"y":265.6},{"t":"0.70","x":707,"y":280},{"t":"0.65","x":707,"y":294.6},{"t":"0.60","x":707,"y":309},{"t":"0.55","x":707,"y":323.6},{"t":"0.50","x":707,"y":338},{"t":"0.45","x":707,"y":353},{"t":"0.40","x":707,"y":367.5},{"t":"0.35","x":707,"y":382},{"t":"0.30","x":707,"y":396.5},{"t":"0.25","x":707,"y":411},{"t":"0.20","x":707,"y":425.5},{"t":"0.15","x":707,"y":440},{"t":"0.10","x":707,"y":455}]
},
"encoding":{
"x":{"field":"x","type":"quantitative","axis":null,"scale":{"domain":[0,1214],"nice":false,"zero":false}},
"y":{"field":"y","type":"quantitative","axis":null,"scale":{"domain":[541,0],"nice":false,"zero":false}}
},
"layer":[
{"data":{"name":"frame"},"mark":{"type":"line","stroke":"#1a1a1a","strokeWidth":1.4,"clip":false},"encoding":{"order":{"value":null}}},
{"data":{"name":"walls"},"mark":{"type":"line","strokeWidth":0.9},"encoding":{"detail":{"field":"w"},"order":{"value":null},"color":{"field":"k","type":"nominal","legend":null,"scale":{"domain":["grid","edge"],"range":["#8f8f8f","#cccccc"]}}}},
{"data":{"name":"floors"},"mark":{"type":"line","fill":"#b4b5b7","stroke":"#b4b5b7","strokeWidth":0.5},"encoding":{"detail":{"field":"id"},"order":{"value":null}}},
{"data":{"name":"backPolys"},"mark":{"type":"line","stroke":"#4a3c14","strokeWidth":0.5,"strokeOpacity":0.6},"encoding":{"detail":{"field":"id"},"order":{"value":null},"fill":{"field":"level","type":"nominal","legend":null,"scale":{"domain":["navy","black","red1","red2","brick","or1","or2","or3","gold1","gold2","yel","pale1","pale2","pale3","cream","white","plateau","plateauB","fin","left"],"range":["#0f2547","#050505","#620505","#93150f","#bf4a1c","#e85f1e","#ec6d1d","#e98518","#dfa20e","#deb20c","#fbee1c","#fbf150","#fbf48c","#fbf6ae","#fdfbd6","#ffffff","#f6f1a5","#f8f18e","#f4ea88","#f4ea6c"]}}}},
{"data":{"name":"backMesh"},"mark":{"type":"line","stroke":"#3a3018","strokeWidth":0.6,"strokeOpacity":0.65},"encoding":{"detail":{"field":"id"},"order":{"value":null}}},
{"data":{"name":"frontPolys"},"mark":{"type":"line","stroke":"#4a3c14","strokeWidth":0.5,"strokeOpacity":0.6},"encoding":{"detail":{"field":"id"},"order":{"value":null},"fill":{"field":"level","type":"nominal","legend":null,"scale":{"domain":["navy","black","red1","red2","brick","or1","or2","or3","gold1","gold2","yel","pale1","pale2","pale3","cream","white","plateau","plateauB","fin","left"],"range":["#0f2547","#050505","#620505","#93150f","#bf4a1c","#e85f1e","#ec6d1d","#e98518","#dfa20e","#deb20c","#fbee1c","#fbf150","#fbf48c","#fbf6ae","#fdfbd6","#ffffff","#f6f1a5","#f8f18e","#f4ea88","#f4ea6c"]}}}},
{"data":{"name":"frontMesh"},"mark":{"type":"line","stroke":"#3a3018","strokeWidth":0.6,"strokeOpacity":0.65},"encoding":{"detail":{"field":"id"},"order":{"value":null}}},
{"data":{"name":"yTitles"},"mark":{"type":"text","font":"Open Sans","fontSize":17,"angle":270,"align":"center","baseline":"middle","color":"#1a1a1a"},"encoding":{"text":{"field":"t"}}},
{"data":{"name":"xTitles"},"mark":{"type":"text","font":"Open Sans","fontSize":14.5,"angle":16,"align":"center","baseline":"middle","color":"#1a1a1a"},"encoding":{"text":{"field":"t"}}},
{"data":{"name":"zTitles"},"mark":{"type":"text","font":"Open Sans","fontSize":14.5,"angle":322,"align":"center","baseline":"middle","color":"#1a1a1a"},"encoding":{"text":{"field":"t"}}},
{"data":{"name":"letters"},"mark":{"type":"text","font":"Liberation Sans","fontSize":44,"align":"center","baseline":"middle","color":"#111111"},"encoding":{"text":{"field":"t"}}},
{"data":{"name":"ticksA"},"mark":{"type":"text","font":"Liberation Sans","fontWeight":"bold","fontSize":8.5,"angle":285,"align":"center","baseline":"middle","color":"#7a7a7a"},"encoding":{"text":{"field":"t"}}},
{"data":{"name":"ticksB"},"mark":{"type":"text","font":"Liberation Sans","fontWeight":"bold","fontSize":9.5,"angle":285,"align":"center","baseline":"middle","color":"#444444"},"encoding":{"text":{"field":"t"}}},
{"data":{"name":"ticksY"},"mark":{"type":"text","font":"Liberation Sans","fontWeight":"bold","fontSize":9,"align":"right","baseline":"middle","color":"#444444"},"encoding":{"text":{"field":"t"}}}
]}
